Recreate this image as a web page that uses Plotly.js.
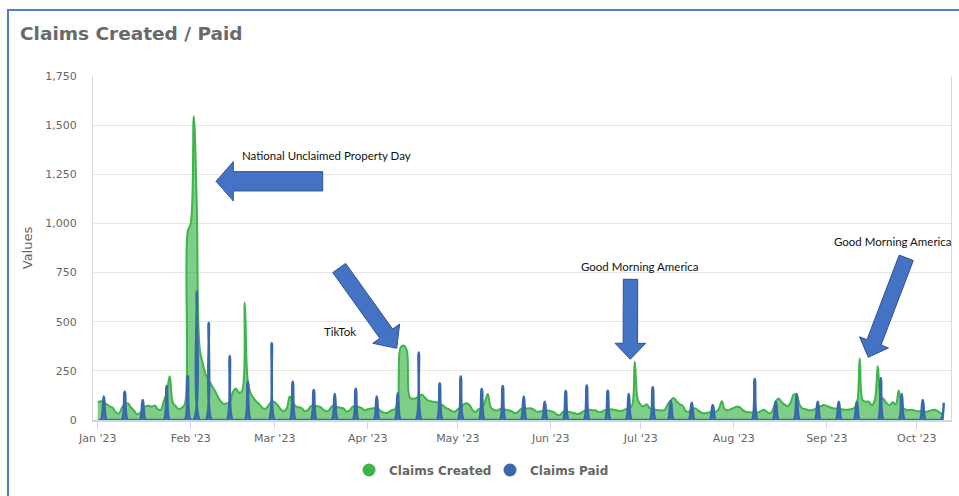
<!DOCTYPE html>
<html>
<head>
<meta charset="utf-8">
<script src="https://cdn.plot.ly/plotly-3.0.1.min.js"></script>
<style>
  html, body { margin: 0; padding: 0; background: #ffffff; }
  #frame { position: absolute; left: 7px; top: 9px; width: 960px; height: 500px;
           border-left: 2px solid #4f7bd0; border-top: 2px solid #4f7bd0; }
  #chart { position: absolute; left: 0; top: 0; width: 959px; height: 496px; }
</style>
</head>
<body>
<div id="frame"></div>
<div id="chart"></div>
<script>
// ---------- data (daily values, 2023) ----------
const seriesNames = ['Claims Created', 'Claims Paid'];
const monthKeys = ['01','02','03','04','05','06','07','08','09','10'];

const createdJan = [90,95,88,80,70,62,40,32,60,82,85,65,50,30,35,50,70,72,68,74,55,52,95,140,222,90,70,55,62,80,960];
const createdFeb = [1000,1545,1100,360,290,230,205,175,150,120,95,82,85,90,140,160,140,145,598,200,135,110,92,78,60,58,76,95];
const createdMar = [90,75,55,45,60,120,90,70,65,60,45,50,70,72,70,68,55,45,48,68,72,65,62,58,42,50,68,70,66,60,50];
const createdApr = [55,58,60,62,50,40,35,40,50,55,90,370,378,355,115,108,110,120,128,115,100,95,92,90,80,75,62,55,45,42];
const createdMay = [55,65,80,85,75,50,42,55,60,90,132,65,52,48,55,58,52,50,45,35,40,55,60,58,60,56,45,42,45,50,48];
const createdJun = [45,40,28,25,40,45,42,38,34,30,35,45,50,52,50,48,40,42,50,52,55,52,50,45,48,55,62,70,296,105];
const createdJul = [76,70,80,60,55,52,50,48,52,80,100,112,95,80,72,45,42,55,60,50,40,34,36,40,45,42,55,95,55,50,55];
const createdAug = [62,68,65,50,42,40,38,40,38,45,52,42,34,50,95,110,90,78,70,90,130,125,75,58,55,50,50,55,62,70,76];
const createdSep = [72,65,60,58,55,55,52,52,55,60,80,314,100,93,93,76,100,275,120,105,85,76,90,80,150,70,55,50,52,50];
const createdOct = [45,45,48,42,45,50,52,45,35,25];

const paidJan = [0,0,119,0,0,0,0,0,0,144,0,0,0,0,0,102,0,0,0,0,0,0,0,173,0,0,0,0,0,0,224];
const paidFeb = [0,0,653,0,0,0,495,0,0,0,0,0,0,326,0,0,0,0,0,195,0,0,0,0,0,0,0,390];
const paidMar = [0,0,0,0,0,0,195,0,0,0,0,0,0,153,0,0,0,0,0,0,132,0,0,0,0,0,0,159,0,0,0];
const paidApr = [0,0,0,120,0,0,0,0,0,0,136,0,0,0,0,0,0,343,0,0,0,0,0,0,187,0,0,0,0,0];
const paidMay = [0,221,0,0,0,0,0,0,158,0,0,0,0,0,0,173,0,0,0,0,0,0,119,0,0,0,0,0,0,93,0];
const paidJun = [0,0,0,0,0,148,0,0,0,0,0,0,175,0,0,0,0,0,0,149,0,0,0,0,0,0,132,0,0,0];
const paidJul = [0,0,0,0,166,0,0,0,0,0,98,0,0,0,0,0,0,88,0,0,0,0,0,0,76,0,0,0,0,0,0];
const paidAug = [0,0,0,0,0,0,0,209,0,0,0,0,0,0,93,0,0,0,0,0,0,132,0,0,0,0,0,0,93,0,0];
const paidSep = [0,0,0,0,93,0,0,0,0,0,93,0,0,0,0,0,0,0,212,0,0,0,0,0,0,132,0,0,0,0];
const paidOct = [0,0,102,0,0,0,0,0,0,88];

const annotationTexts = ['National Unclaimed Property Day', 'TikTok', 'Good Morning America', 'Good Morning America'];

// ---------- build daily dates ----------
const createdByMonth = [createdJan,createdFeb,createdMar,createdApr,createdMay,createdJun,createdJul,createdAug,createdSep,createdOct];
const paidByMonth = [paidJan,paidFeb,paidMar,paidApr,paidMay,paidJun,paidJul,paidAug,paidSep,paidOct];
function datesFor(mk, arr) { return arr.map((_, i) => '2023-' + mk + '-' + String(i + 1).padStart(2, '0')); }
const createdX = [], createdY = [], paidX = [], paidY = [];
monthKeys.forEach((mk, m) => {
  createdX.push(...datesFor(mk, createdByMonth[m])); createdY.push(...createdByMonth[m]);
  paidX.push(...datesFor(mk, paidByMonth[m])); paidY.push(...paidByMonth[m]);
});

// ---------- colours ----------
const GREEN = '#3db54a', GREEN_FILL = 'rgba(61,181,74,0.66)';
const BLUE = '#3a69aa', BLUE_FILL = 'rgba(58,105,170,0.85)';
const FONT = 'DejaVu Sans, Verdana, sans-serif';
const GREY = '#666666';

// ---------- plot-area geometry (pixels) for callouts ----------
const PL = 93, PR = 951, PT = 76, PB = 420;
function toPaper(p) { return [(p[0] - PL) / (PR - PL), (PB - p[1]) / (PB - PT)]; }
function arrowPath(tail, tip, sw, hw, hl) {
  const dx = tip[0] - tail[0], dy = tip[1] - tail[1], L = Math.hypot(dx, dy);
  const ux = dx / L, uy = dy / L, nx = -uy, ny = ux;
  const bx = tip[0] - ux * hl, by = tip[1] - uy * hl;
  const pts = [
    [tail[0] + nx * sw / 2, tail[1] + ny * sw / 2],
    [bx + nx * sw / 2, by + ny * sw / 2],
    [bx + nx * hw / 2, by + ny * hw / 2],
    tip,
    [bx - nx * hw / 2, by - ny * hw / 2],
    [bx - nx * sw / 2, by - ny * sw / 2],
    [tail[0] - nx * sw / 2, tail[1] - ny * sw / 2]
  ].map(toPaper);
  return 'M ' + pts.map(p => p[0].toFixed(5) + ' ' + p[1].toFixed(5)).join(' L ') + ' Z';
}
const arrows = [
  arrowPath([322.7, 181.3], [216, 181.3], 19.3, 39.3, 17.3),
  arrowPath([339.2, 268], [396.7, 348.3], 15.8, 33, 18),
  arrowPath([630.5, 279.3], [630.3, 359.3], 14.4, 30.7, 16),
  arrowPath([906.3, 257.8], [868.3, 357.3], 15.1, 31, 16)
];
const shapes = arrows.map(p => ({
  type: 'path', path: p, xref: 'paper', yref: 'paper',
  fillcolor: '#4472c4', line: { color: '#2f528f', width: 1 }, layer: 'above'
}));
const labelPos = [[326, 155], [340, 331], [639.5, 266], [892.5, 241]];
const annotations = annotationTexts.map((t, i) => {
  const p = toPaper(labelPos[i]);
  return { text: t, x: p[0], y: p[1], xref: 'paper', yref: 'paper', showarrow: false,
           xanchor: 'center', yanchor: 'middle',
           font: { family: 'Lato, Carlito, sans-serif', size: 11.5, color: '#111111' } };
});

// ---------- traces ----------
const traces = [
  { x: createdX, y: createdY, type: 'scatter', mode: 'lines', name: seriesNames[0],
    line: { color: GREEN, width: 2, shape: 'spline', smoothing: 1.1 },
    fill: 'tozeroy', fillcolor: GREEN_FILL, showlegend: false, hoverinfo: 'skip' },
  { x: paidX, y: paidY, type: 'scatter', mode: 'lines', name: seriesNames[1],
    line: { color: BLUE, width: 2.5, shape: 'spline', smoothing: 1.3 },
    fill: 'tozeroy', fillcolor: BLUE_FILL, showlegend: false, hoverinfo: 'skip' },
  { x: [null], y: [null], type: 'scatter', mode: 'markers', name: seriesNames[0],
    marker: { color: GREEN, size: 13 }, showlegend: true },
  { x: [null], y: [null], type: 'scatter', mode: 'markers', name: seriesNames[1],
    marker: { color: BLUE, size: 13 }, showlegend: true }
];

const layout = {
  width: 959, height: 496,
  margin: { l: PL, r: 959 - PR, t: PT, b: 496 - PB, pad: 0 },
  paper_bgcolor: 'rgba(0,0,0,0)', plot_bgcolor: '#ffffff',
  title: { text: 'Claims Created / Paid', x: 20 / 959, xref: 'container', xanchor: 'left',
           y: 1 - 34 / 496, yref: 'container', yanchor: 'middle',
           font: { family: FONT, size: 18.5, weight: 'bold', color: '#67696a' } },
  xaxis: {
    type: 'date', range: ['2022-12-30 10:00', '2023-10-12 10:00'],
    tick0: '2023-01-01', dtick: 'M1', tickformat: "%b '%y",
    ticks: 'outside', ticklen: 7, tickcolor: '#ccd6eb', tickwidth: 1,
    showgrid: false, showline: true, linecolor: '#ccd6eb', linewidth: 2,
    zeroline: false, fixedrange: true,
    tickfont: { family: FONT, size: 11, color: GREY }
  },
  yaxis: {
    range: [0, 1750], dtick: 250, tick0: 0, tickformat: ',d',
    showgrid: true, gridcolor: '#e6e6e6', gridwidth: 1,
    showline: true, mirror: true, linecolor: '#d9d9d9', linewidth: 1,
    zeroline: false, ticks: '', ticklabelstandoff: 13, fixedrange: true,
    tickfont: { family: FONT, size: 11, color: GREY },
    title: { text: 'Values', standoff: 9, font: { family: FONT, size: 13, color: GREY } }
  },
  legend: {
    orientation: 'h', xref: 'container', yref: 'container',
    x: 349 / 959, xanchor: 'left', y: 1 - 470 / 496, yanchor: 'middle',
    entrywidth: 96, entrywidthmode: 'pixels',
    font: { family: FONT, size: 12, weight: 'bold', color: GREY },
    bgcolor: 'rgba(0,0,0,0)', itemclick: false, itemdoubleclick: false
  },
  shapes: shapes,
  annotations: annotations,
  hovermode: false
};

Plotly.newPlot('chart', traces, layout, { staticPlot: true, displayModeBar: false });
</script>
</body>
</html>
